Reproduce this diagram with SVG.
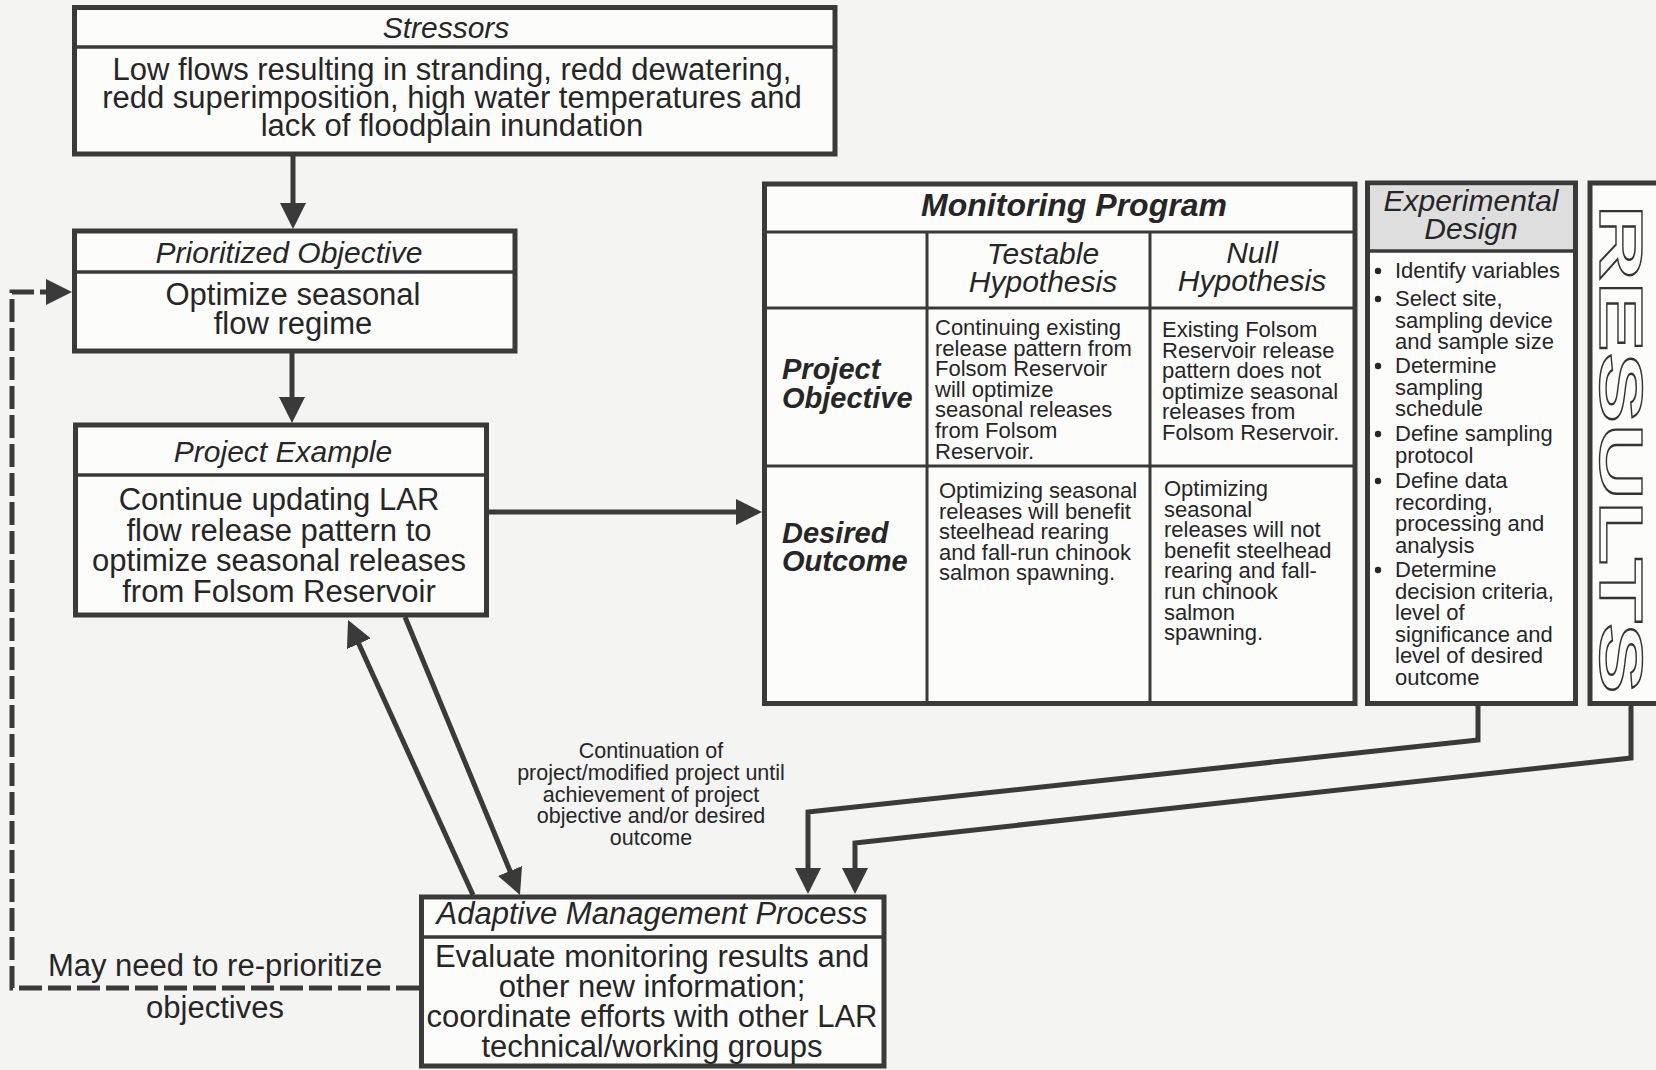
<svg xmlns="http://www.w3.org/2000/svg" width="1656" height="1070" viewBox="0 0 1656 1070">
<style>
text{font-family:"Liberation Sans",Arial,Helvetica,sans-serif;fill:#262626}
.box{fill:#fcfcfb;stroke:#3a3a3a;stroke-width:5}
.div{stroke:#3a3a3a;stroke-width:3.5;fill:none}
.grid{stroke:#3a3a3a;stroke-width:3;fill:none}
.ttl{font-size:30px;font-style:italic;text-anchor:middle}
.body{font-size:31px;text-anchor:middle}
.cell{font-size:22px}
.rowl{font-size:29px;font-style:italic;font-weight:bold}
.colh{font-size:30px;font-style:italic;text-anchor:middle}
.lbl{font-size:21.5px;text-anchor:middle}
.con{stroke:#3a3a3a;stroke-width:5;fill:none;stroke-linejoin:miter}
.dash{stroke:#3a3a3a;stroke-width:5;fill:none;stroke-dasharray:23 6}
</style>
<defs>
<marker id="ah" viewBox="0 0 26 26" refX="14" refY="13" markerWidth="26" markerHeight="26" markerUnits="userSpaceOnUse" orient="auto">
<path d="M0,0 L26,13 L0,26 z" fill="#3a3a3a"/>
</marker>
</defs>
<rect x="0" y="0" width="1656" height="1070" fill="#f4f4f2"/>

<g id="stressors">
<rect class="box" x="74.5" y="7.5" width="760.5" height="146.5"/>
<line class="div" x1="74.5" y1="47" x2="835" y2="47"/>
<text class="ttl" x="446" y="38">Stressors</text>
<text class="body" x="452" y="80">Low flows resulting in stranding, redd dewatering,</text>
<text class="body" x="452" y="108">redd superimposition, high water temperatures and</text>
<text class="body" x="452" y="136">lack of floodplain inundation</text>
</g>

<g id="prioritized-objective">
<rect class="box" x="74.5" y="231" width="440.5" height="120"/>
<line class="div" x1="74.5" y1="272" x2="515" y2="272"/>
<text class="ttl" x="289" y="263">Prioritized Objective</text>
<text class="body" x="293" y="305">Optimize seasonal</text>
<text class="body" x="293" y="334">flow regime</text>
</g>

<g id="project-example">
<rect class="box" x="75.5" y="425" width="411" height="190"/>
<line class="div" x1="75.5" y1="475" x2="486.5" y2="475"/>
<text class="ttl" x="283" y="462">Project Example</text>
<text class="body" x="279" y="510">Continue updating LAR</text>
<text class="body" x="279" y="541">flow release pattern to</text>
<text class="body" x="279" y="571">optimize seasonal releases</text>
<text class="body" x="279" y="602">from Folsom Reservoir</text>
</g>

<g id="monitoring-program">
<rect class="box" x="764.5" y="184" width="590.5" height="519.5"/>
<line class="grid" x1="764.5" y1="232" x2="1355" y2="232"/>
<line class="grid" x1="764.5" y1="308" x2="1355" y2="308"/>
<line class="grid" x1="764.5" y1="466" x2="1355" y2="466"/>
<line class="grid" x1="927" y1="232" x2="927" y2="703.5"/>
<line class="grid" x1="1150" y1="232" x2="1150" y2="703.5"/>
<text x="1074" y="216" style="font-size:32px;font-style:italic;font-weight:bold;text-anchor:middle">Monitoring Program</text>
<text class="colh" x="1043" y="264">Testable</text>
<text class="colh" x="1043" y="292">Hypothesis</text>
<text class="colh" x="1252" y="263">Null</text>
<text class="colh" x="1252" y="291">Hypothesis</text>
<text class="rowl" x="782" y="379">Project</text>
<text class="rowl" x="782" y="408">Objective</text>
<text class="rowl" x="782" y="543">Desired</text>
<text class="rowl" x="782" y="571">Outcome</text>
<text class="cell" x="935" y="335">Continuing existing</text>
<text class="cell" x="935" y="355.6">release pattern from</text>
<text class="cell" x="935" y="376.2">Folsom Reservoir</text>
<text class="cell" x="935" y="396.8">will optimize</text>
<text class="cell" x="935" y="417.4">seasonal releases</text>
<text class="cell" x="935" y="438">from Folsom</text>
<text class="cell" x="935" y="458.6">Reservoir.</text>
<text class="cell" x="1162" y="337">Existing Folsom</text>
<text class="cell" x="1162" y="357.6">Reservoir release</text>
<text class="cell" x="1162" y="378.2">pattern does not</text>
<text class="cell" x="1162" y="398.8">optimize seasonal</text>
<text class="cell" x="1162" y="419.4">releases from</text>
<text class="cell" x="1162" y="440">Folsom Reservoir.</text>
<text class="cell" x="939" y="498">Optimizing seasonal</text>
<text class="cell" x="939" y="518.6">releases will benefit</text>
<text class="cell" x="939" y="539.2">steelhead rearing</text>
<text class="cell" x="939" y="559.8">and fall-run chinook</text>
<text class="cell" x="939" y="580.4">salmon spawning.</text>
<text class="cell" x="1164" y="496">Optimizing</text>
<text class="cell" x="1164" y="516.6">seasonal</text>
<text class="cell" x="1164" y="537.2">releases will not</text>
<text class="cell" x="1164" y="557.8">benefit steelhead</text>
<text class="cell" x="1164" y="578.4">rearing and fall-</text>
<text class="cell" x="1164" y="599">run chinook</text>
<text class="cell" x="1164" y="619.6">salmon</text>
<text class="cell" x="1164" y="640.2">spawning.</text>
</g>

<g id="experimental-design">
<rect class="box" x="1367.5" y="183" width="208" height="520.5"/>
<rect x="1370" y="185.5" width="203" height="65.5" fill="#dedede"/>
<line class="div" x1="1367.5" y1="251" x2="1575.5" y2="251"/>
<text class="ttl" x="1471" y="211">Experimental</text>
<text class="ttl" x="1471" y="239">Design</text>
<g fill="#262626">
<circle cx="1378" cy="271" r="3.2"/>
<circle cx="1378" cy="299" r="3.2"/>
<circle cx="1378" cy="366" r="3.2"/>
<circle cx="1378" cy="434" r="3.2"/>
<circle cx="1378" cy="481" r="3.2"/>
<circle cx="1378" cy="570" r="3.2"/>
</g>
<text class="cell" x="1395" y="278">Identify variables</text>
<text class="cell" x="1395" y="306">Select site,</text>
<text class="cell" x="1395" y="327.5">sampling device</text>
<text class="cell" x="1395" y="349">and sample size</text>
<text class="cell" x="1395" y="373">Determine</text>
<text class="cell" x="1395" y="394.5">sampling</text>
<text class="cell" x="1395" y="416">schedule</text>
<text class="cell" x="1395" y="441">Define sampling</text>
<text class="cell" x="1395" y="462.5">protocol</text>
<text class="cell" x="1395" y="488">Define data</text>
<text class="cell" x="1395" y="509.5">recording,</text>
<text class="cell" x="1395" y="531">processing and</text>
<text class="cell" x="1395" y="552.5">analysis</text>
<text class="cell" x="1395" y="577">Determine</text>
<text class="cell" x="1395" y="598.5">decision criteria,</text>
<text class="cell" x="1395" y="620">level of</text>
<text class="cell" x="1395" y="641.5">significance and</text>
<text class="cell" x="1395" y="663">level of desired</text>
<text class="cell" x="1395" y="684.5">outcome</text>
</g>

<g id="results">
<rect class="box" x="1590" y="183" width="100" height="520.5"/>
<text transform="translate(1600,204) rotate(90)" x="0" y="0" textLength="490" lengthAdjust="spacingAndGlyphs" style="font-size:62px;font-weight:bold;fill:#fcfcfb;stroke:#333;stroke-width:1.4">RESULTS</text>
</g>

<g id="adaptive-management">
<rect class="box" x="421.5" y="897" width="462.5" height="169"/>
<line class="div" x1="421.5" y1="937" x2="884" y2="937"/>
<text class="ttl" x="652" y="924" style="font-size:31px">Adaptive Management Process</text>
<text class="body" x="652" y="967">Evaluate monitoring results and</text>
<text class="body" x="652" y="997">other new information;</text>
<text class="body" x="652" y="1027">coordinate efforts with other LAR</text>
<text class="body" x="652" y="1057">technical/working groups</text>
</g>

<g id="connectors">
<line class="con" x1="293" y1="156" x2="293" y2="217" marker-end="url(#ah)"/>
<line class="con" x1="292" y1="353" x2="292" y2="411" marker-end="url(#ah)"/>
<line class="con" x1="488" y1="512" x2="750" y2="512" marker-end="url(#ah)"/>
<line class="con" x1="473" y1="895" x2="353" y2="631" marker-end="url(#ah)"/>
<line class="con" x1="405" y1="617" x2="515.4" y2="883.9" marker-end="url(#ah)"/>
<polyline class="con" points="1478,706 1478,740 808,812 808,882" marker-end="url(#ah)"/>
<polyline class="con" points="1631,706 1631,758 855,843 855,882" marker-end="url(#ah)"/>
<polyline class="dash" points="419,988 12,988 12,292 60,292" marker-end="url(#ah)"/>
<text class="lbl" x="651" y="758">Continuation of</text>
<text class="lbl" x="651" y="780">project/modified project until</text>
<text class="lbl" x="651" y="802">achievement of project</text>
<text class="lbl" x="651" y="823">objective and/or desired</text>
<text class="lbl" x="651" y="845">outcome</text>
<text class="body" x="215" y="976">May need to re-prioritize</text>
<text class="body" x="215" y="1018">objectives</text>
</g>
</svg>
